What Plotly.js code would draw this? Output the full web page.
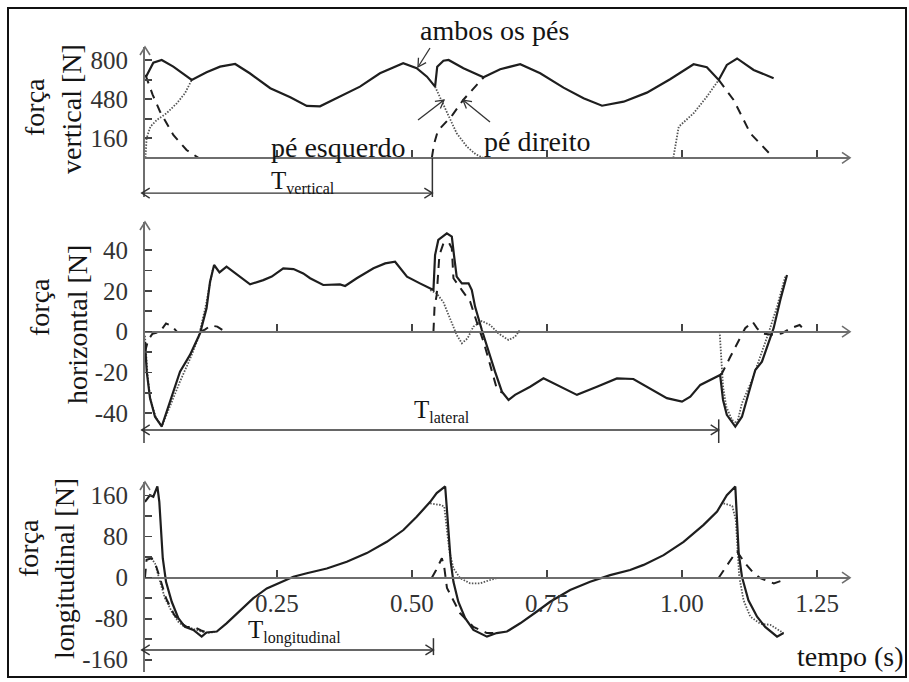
<!DOCTYPE html>
<html><head><meta charset="utf-8">
<script src="https://cdn.plot.ly/plotly-3.0.1.min.js"></script>
<style>html,body{margin:0;padding:0;background:#fff}#chart{width:909px;height:682px}</style>
</head><body><div id="chart"></div>
<script>
// ---------- DATA ----------
// força vertical [N]
const vertBothT = [0.008,0.0215,0.037,0.0585,0.0926,0.120,0.145,0.173,0.200,0.238,0.275,0.3055,0.330,0.367,0.404,0.441,0.484,0.509,0.528,0.543,0.547,0.5585,0.568,0.5955,0.6326,0.6635,0.7006,0.7376,0.7807,0.8178,0.852,0.892,0.935,0.978,1.0215,1.046,1.068,1.083,1.102,1.1326,1.1696];
const vertBothF = [665,780,802,747,638,701,747,769,693,570,496,425,422,501,583,693,775,734,665,583,747,796,802,734,660,726,767,693,575,488,427,460,534,644,767,742,638,761,814,720,652];
const vertDashT = [0.007,0.02,0.034,0.0585,0.083,0.105,null,0.537,0.541,0.548,0.575,0.595,0.615,0.633,null,1.068,1.0956,1.1265,1.1696];
const vertDashF = [680,520,378,187,64,0,null,0,110,220,350,474,570,660,null,638,474,201,0];
const vertDotT = [0.007,0.009,0.016,0.028,0.046,0.065,0.080,0.0926,null,0.543,0.5556,0.568,0.583,0.602,0.618,0.632,null,0.984,0.994,1.0215,1.046,1.068];
const vertDotF = [0,160,255,310,365,447,529,638,null,583,460,337,201,91,30,0,null,0,255,365,501,638];

// força horizontal [N]
const horBothT = [0.006,0.0093,0.0154,0.0246,0.037,0.0524,0.0617,0.0709,0.0894,0.108,0.120,0.1265,0.134,0.144,0.157,0.182,0.2006,0.225,0.2407,0.262,0.281,0.299,0.3117,0.336,0.367,0.3765,0.398,0.429,0.4506,0.469,0.491,0.515,0.540,0.543,0.549,0.5648,0.574,0.578,0.583,0.5926,0.605,0.611,0.617,0.6296,0.642,0.654,0.6667,0.679,0.691,0.719,0.7437,0.7685,0.8056,0.8426,0.8796,0.910,0.941,0.972,1.0,1.0154,1.034,1.065,1.0706,1.076,1.083,1.0987,1.111,1.1233,1.1357,1.148,1.160,1.1696,1.182,1.1944];
const horBothF = [-5,-19.6,-32.6,-41.7,-46.5,-34.3,-27.7,-19.6,-11.4,-0.8,11.5,24.5,32.7,29.1,31.9,27,23.2,25.3,27,31.1,30.7,28.6,26.2,22.9,23.2,22.4,26.2,31.1,33.5,34.3,27,23.7,20.4,37.6,45,48.2,46.6,37.6,27,23.7,23.7,20.4,12.3,0.8,-9.8,-19.6,-29.4,-33.5,-31,-27,-22.9,-26.1,-31,-27,-22.9,-23.2,-27.7,-32.6,-34.3,-31.9,-26.1,-22.1,-21.2,-33.5,-40.8,-46.6,-41.7,-30.2,-18.8,-14.7,-5.7,1.7,15.5,27.8];
const horDashT = [0.006,0.012,0.02,0.034,0.045,0.055,0.065,null,0.108,0.117,0.128,0.14,0.154,null,0.540,0.542,0.546,0.551,0.5585,0.568,0.574,0.577,0.5926,0.608,0.620,0.6327,0.645,0.657,0.667,null,1.0706,1.074,1.0895,1.105,1.117,1.1307,1.139,1.15,1.1696,1.185,1.2006,1.2178,1.228];
const horDashF = [-10,-4,-1,0,4,3,0,null,0,1,3,2.5,0,null,0,12,18,37.6,43.3,44,40.9,26.2,20.4,14.7,4.9,-4.9,-16.3,-27.7,-30,null,-21.2,-20.4,-12.3,-4.1,1.7,4.9,1.6,-1,-1.6,-0.8,1.6,3.3,0.5];
const horDotT = [0.006,0.008,0.011,0.016,0.026,0.037,0.05,0.07,0.09,0.105,0.118,0.1265,0.131,null,0.534,0.546,0.5585,0.571,0.583,0.5926,0.603,0.614,0.6296,0.645,0.660,0.679,0.691,0.7,null,1.0697,1.072,1.076,1.082,1.0926,1.102,1.111,1.1296,1.145,1.160,1.176,1.191];
const horDotF = [-2,-10,-22,-33,-42,-46.6,-38,-25,-13,-3,12,24,30,null,20.4,18.8,14.4,6.6,-1.6,-5.7,-3.3,2.5,5.2,3.3,-0.8,-4.1,-2.5,0.8,null,0,-12.3,-27,-36.8,-43.3,-44.9,-35.1,-23.7,-12.3,-0.8,12.3,27];

// força longitudinal [N]
const lonBothT = [0.006,0.0154,0.0215,0.029,0.0326,0.035,0.039,0.045,0.0556,0.0678,0.080,0.0956,0.111,0.120,0.139,0.157,0.182,0.2067,0.2315,0.256,0.2807,0.3056,0.3426,0.3796,0.4167,0.4537,0.4844,0.509,0.534,0.546,0.5617,0.5648,0.5678,0.572,0.577,0.586,0.5987,0.614,0.639,0.657,0.676,0.7006,0.7315,0.756,0.793,0.830,0.867,0.904,0.929,0.966,1.003,1.040,1.065,1.083,1.0987,1.102,1.105,1.111,1.123,1.139,1.154,1.176,1.188];
const lonBothF = [148,161,158,178,148,96,38,-8,-47,-79,-96,-102,-115,-107,-105,-89,-65,-40,-21,-9,2,8.6,18,31,48,70,93,119,148,165,178,135,90,31,-8,-47,-79,-102,-115,-108,-105,-89,-66,-47,-24,-8,5,15,25,44,70,103,129,161,178,113,48,2,-44,-76,-96,-115,-108];
const lonDashT = [0.006,0.009,0.0185,0.026,0.035,0.045,0.06,0.075,0.083,0.099,0.11,0.12,null,0.537,0.545,0.5556,0.56,0.565,0.577,0.589,0.602,0.614,0.639,0.657,null,1.068,1.089,1.0987,1.102,1.117,1.13,1.145,1.17,1.188];
const lonDashF = [0,35,38,25,-5,-40,-72,-90,-96,-97,-103,-107,null,0,15,38,20,-20,-44,-69,-83,-96,-108,-108,null,0,34.5,48,51,28,12,-1,-11,-4.5];
const lonDotT = [0.018,0.0246,0.034,0.043,0.0556,0.0678,0.077,0.09,0.105,0.12,0.135,null,0.534,0.5524,0.56,0.5648,0.5696,0.577,0.5894,0.608,0.6265,0.645,0.657,null,1.077,1.093,1.0996,1.1037,1.106,1.114,1.1265,1.145,1.1635,1.188];
const lonDotF = [38,28,-8,-40,-66,-86,-94,-98,-103,-108,-106,null,145,142,139,96,51,18,-1,-11,-11,-4.5,-1,null,145,140,113,48,2,-44,-76,-90,-92,-108];

// ticks (labelled major ticks, unlabelled minor ticks)
const xTickVals = [0.25,0.50,0.75,1.00,1.25];
const xTickText = ['0.25','0.50','0.75','1.00','1.25'];
const vertTickVals = [160,480,800];
const vertMinorVals = [320,640];
const horTickVals = [-40,-20,0,20,40];
const horMinorVals = [-30,-10,10,30];
const lonTickVals = [-160,-80,0,80,160];
const lonMinorVals = [-120,-40,40,120];

// periods (s)
const tVertical = [0, 0.538];
const tLateral = [0, 1.068];
const tLongitudinal = [0, 0.540];

// ---------- LAYOUT ----------
const W = 909, H = 682;
const FONT = "'Liberation Serif', 'Times New Roman', Times, 'DejaVu Serif', serif";
const px = v => v / W, py = v => 1 - v / H;

const xRange = [0.0061, 1.311];
const xDomain = [px(145), px(850)];
const vertRange = [-321, 908], vertDomain = [py(197), py(47)];
const horRange = [-54.6, 53.8], horDomain = [py(443), py(222)];
const lonRange = [-184, 186.7], lonDomain = [py(672), py(482)];

function zeroPos(range, dom) {
  return dom[0] + (0 - range[0]) / (range[1] - range[0]) * (dom[1] - dom[0]);
}
function xPix(v) { return (xDomain[0] + (v - xRange[0]) / (xRange[1] - xRange[0]) * (xDomain[1] - xDomain[0])) * W; }
function yPix(v, range, dom) { return (1 - (dom[0] + (v - range[0]) / (range[1] - range[0]) * (dom[1] - dom[0]))) * H; }
function P(x, y) { return (x / W).toFixed(5) + ',' + (1 - y / H).toFixed(5); }
function chevron(tx, ty, dx, dy, len, half) {
  const bx = tx - dx * len, by = ty - dy * len, nx = -dy, ny = dx;
  return 'M' + P(bx + nx * half, by + ny * half) + ' L' + P(tx, ty) + ' L' + P(bx - nx * half, by - ny * half);
}
function seg(x1, y1, x2, y2) { return 'M' + P(x1, y1) + ' L' + P(x2, y2); }

const solid = {color: '#1e1e1e', width: 2.2};
const dashed = {color: '#1e1e1e', width: 2, dash: '9px,7px'};
const dotted = {color: '#555', width: 1.8, dash: '1.5px,1.5px'};

function tr(x, y, line, xa, ya) {
  return {x: x, y: y, type: 'scatter', mode: 'lines', line: line, xaxis: xa, yaxis: ya,
          connectgaps: false, showlegend: false, hoverinfo: 'skip'};
}

const data = [
  tr(vertDotT, vertDotF, dotted, 'x', 'y'),
  tr(vertDashT, vertDashF, dashed, 'x', 'y'),
  tr(vertBothT, vertBothF, solid, 'x', 'y'),
  tr(horDotT, horDotF, dotted, 'x2', 'y2'),
  tr(horDashT, horDashF, dashed, 'x2', 'y2'),
  tr(horBothT, horBothF, solid, 'x2', 'y2'),
  tr(lonDotT, lonDotF, dotted, 'x3', 'y3'),
  tr(lonDashT, lonDashF, dashed, 'x3', 'y3'),
  tr(lonBothT, lonBothF, solid, 'x3', 'y3')
];

const axisLine = '#6e6e6e';
function xAxis(range, dom, labels) {
  return {
    domain: xDomain, range: xRange, anchor: 'free', position: zeroPos(range, dom),
    tickvals: xTickVals, ticktext: xTickText, showticklabels: labels,
    ticks: 'inside', ticklen: 7, tickwidth: 1.6, tickcolor: '#444',
    showline: true, linecolor: axisLine, linewidth: 2,
    showgrid: false, zeroline: false, fixedrange: true,
    tickfont: {family: FONT, size: 25, color: '#333'}, ticklabelstandoff: 3
  };
}
function yAxis(range, dom, tv, minor, anchor) {
  return {
    domain: dom, range: range, anchor: anchor,
    tickvals: tv, ticktext: tv.map(String), ticks: 'inside', ticklen: 7, tickwidth: 1.6, tickcolor: '#444',
    minor: {tickvals: minor, ticks: 'inside', ticklen: 7, tickwidth: 1.6, tickcolor: '#444', showgrid: false},
    showline: true, linecolor: axisLine, linewidth: 2,
    showgrid: false, zeroline: false, fixedrange: true,
    tickfont: {family: FONT, size: 25, color: '#333'}, ticklabelstandoff: 10
  };
}

const ann = [];
function txt(text, x, y, size, opts) {
  ann.push(Object.assign({text: text, xref: 'paper', yref: 'paper', x: px(x), y: py(y),
    xanchor: 'left', yanchor: 'middle', showarrow: false,
    font: {family: FONT, size: size, color: '#141414'}}, opts || {}));
}
const sub = s => 'T<sub><span style="font-size:16px">' + s + '</span></sub>';
txt('força', 35, 107, 28, {textangle: -90, xanchor: 'center'});
txt('vertical [N]', 72, 109, 28, {textangle: -90, xanchor: 'center'});
txt('força', 39, 307, 28, {textangle: -90, xanchor: 'center'});
txt('horizontal [N]', 77, 325, 28, {textangle: -90, xanchor: 'center'});
txt('força', 28, 548, 28, {textangle: -90, xanchor: 'center'});
txt('longitudinal [N]', 64, 569, 28, {textangle: -90, xanchor: 'center'});
txt('ambos os pés', 418, 31, 28);
txt('pé esquerdo', 269, 147, 28);
txt('pé direito', 482, 141, 28);
txt('tempo (s)', 795, 656, 28);
txt(sub('vertical'), 269, 182, 25);
txt(sub('lateral'), 412, 411, 25);
txt(sub('longitudinal'), 246, 631, 25);

const shapes = [];
function pathShape(d, color, width) {
  shapes.push({type: 'path', xref: 'paper', yref: 'paper', path: d, line: {color: color, width: width}});
}
[[vertRange, vertDomain], [horRange, horDomain], [lonRange, lonDomain]].forEach(function (a) {
  pathShape(chevron(xPix(xRange[0]), yPix(a[0][1], a[0], a[1]), 0, -1, 8, 5), axisLine, 1.6);
  pathShape(chevron(xPix(xRange[1]), yPix(0, a[0], a[1]), 1, 0, 8, 5.5), axisLine, 1.6);
});
function period(t, yv, range, dom, barTop, barBot) {
  const x0 = xPix(t[0]), x1 = xPix(t[1]), y = yPix(yv, range, dom);
  pathShape(seg(x0, y, x1, y), '#333', 1.4);
  pathShape(chevron(x0, y, -1, 0, 8, 5), '#333', 1.4);
  pathShape(chevron(x1, y, 1, 0, 8, 5), '#333', 1.4);
  pathShape(seg(x1, yPix(barTop, range, dom), x1, yPix(barBot, range, dom)), '#333', 1.5);
}
period(tVertical, -289, vertRange, vertDomain, 0, vertRange[0]);
period(tLateral, -48.2, horRange, horDomain, -43, horRange[0]);
period(tLongitudinal, -141, lonRange, lonDomain, -118, -151);
function pointer(tailX, tailY, tipX, tipY) {
  const L = Math.hypot(tipX - tailX, tipY - tailY);
  pathShape(seg(tailX, tailY, tipX, tipY), '#333', 1.3);
  pathShape(chevron(tipX, tipY, (tipX - tailX) / L, (tipY - tailY) / L, 8, 4.5), '#333', 1.3);
}
pointer(430, 48, 418, 67);
pointer(418, 120, 444, 100);
pointer(490, 122, 463, 100);
shapes.push({type: 'rect', xref: 'paper', yref: 'paper', x0: px(8), x1: px(906), y0: py(677), y1: py(8), line: {color: '#111', width: 2}});

const layout = {
  width: W, height: H, margin: {l: 0, r: 0, t: 0, b: 0},
  paper_bgcolor: '#fff', plot_bgcolor: 'rgba(0,0,0,0)', showlegend: false,
  font: {family: FONT},
  xaxis: xAxis(vertRange, vertDomain, false),
  xaxis2: Object.assign(xAxis(horRange, horDomain, false), {matches: 'x'}),
  xaxis3: Object.assign(xAxis(lonRange, lonDomain, true), {matches: 'x'}),
  yaxis: yAxis(vertRange, vertDomain, vertTickVals, vertMinorVals, 'x'),
  yaxis2: yAxis(horRange, horDomain, horTickVals, horMinorVals, 'x2'),
  yaxis3: yAxis(lonRange, lonDomain, lonTickVals, lonMinorVals, 'x3'),
  annotations: ann, shapes: shapes
};

Plotly.newPlot('chart', data, layout, {staticPlot: true, displayModeBar: false});
</script></body></html>
